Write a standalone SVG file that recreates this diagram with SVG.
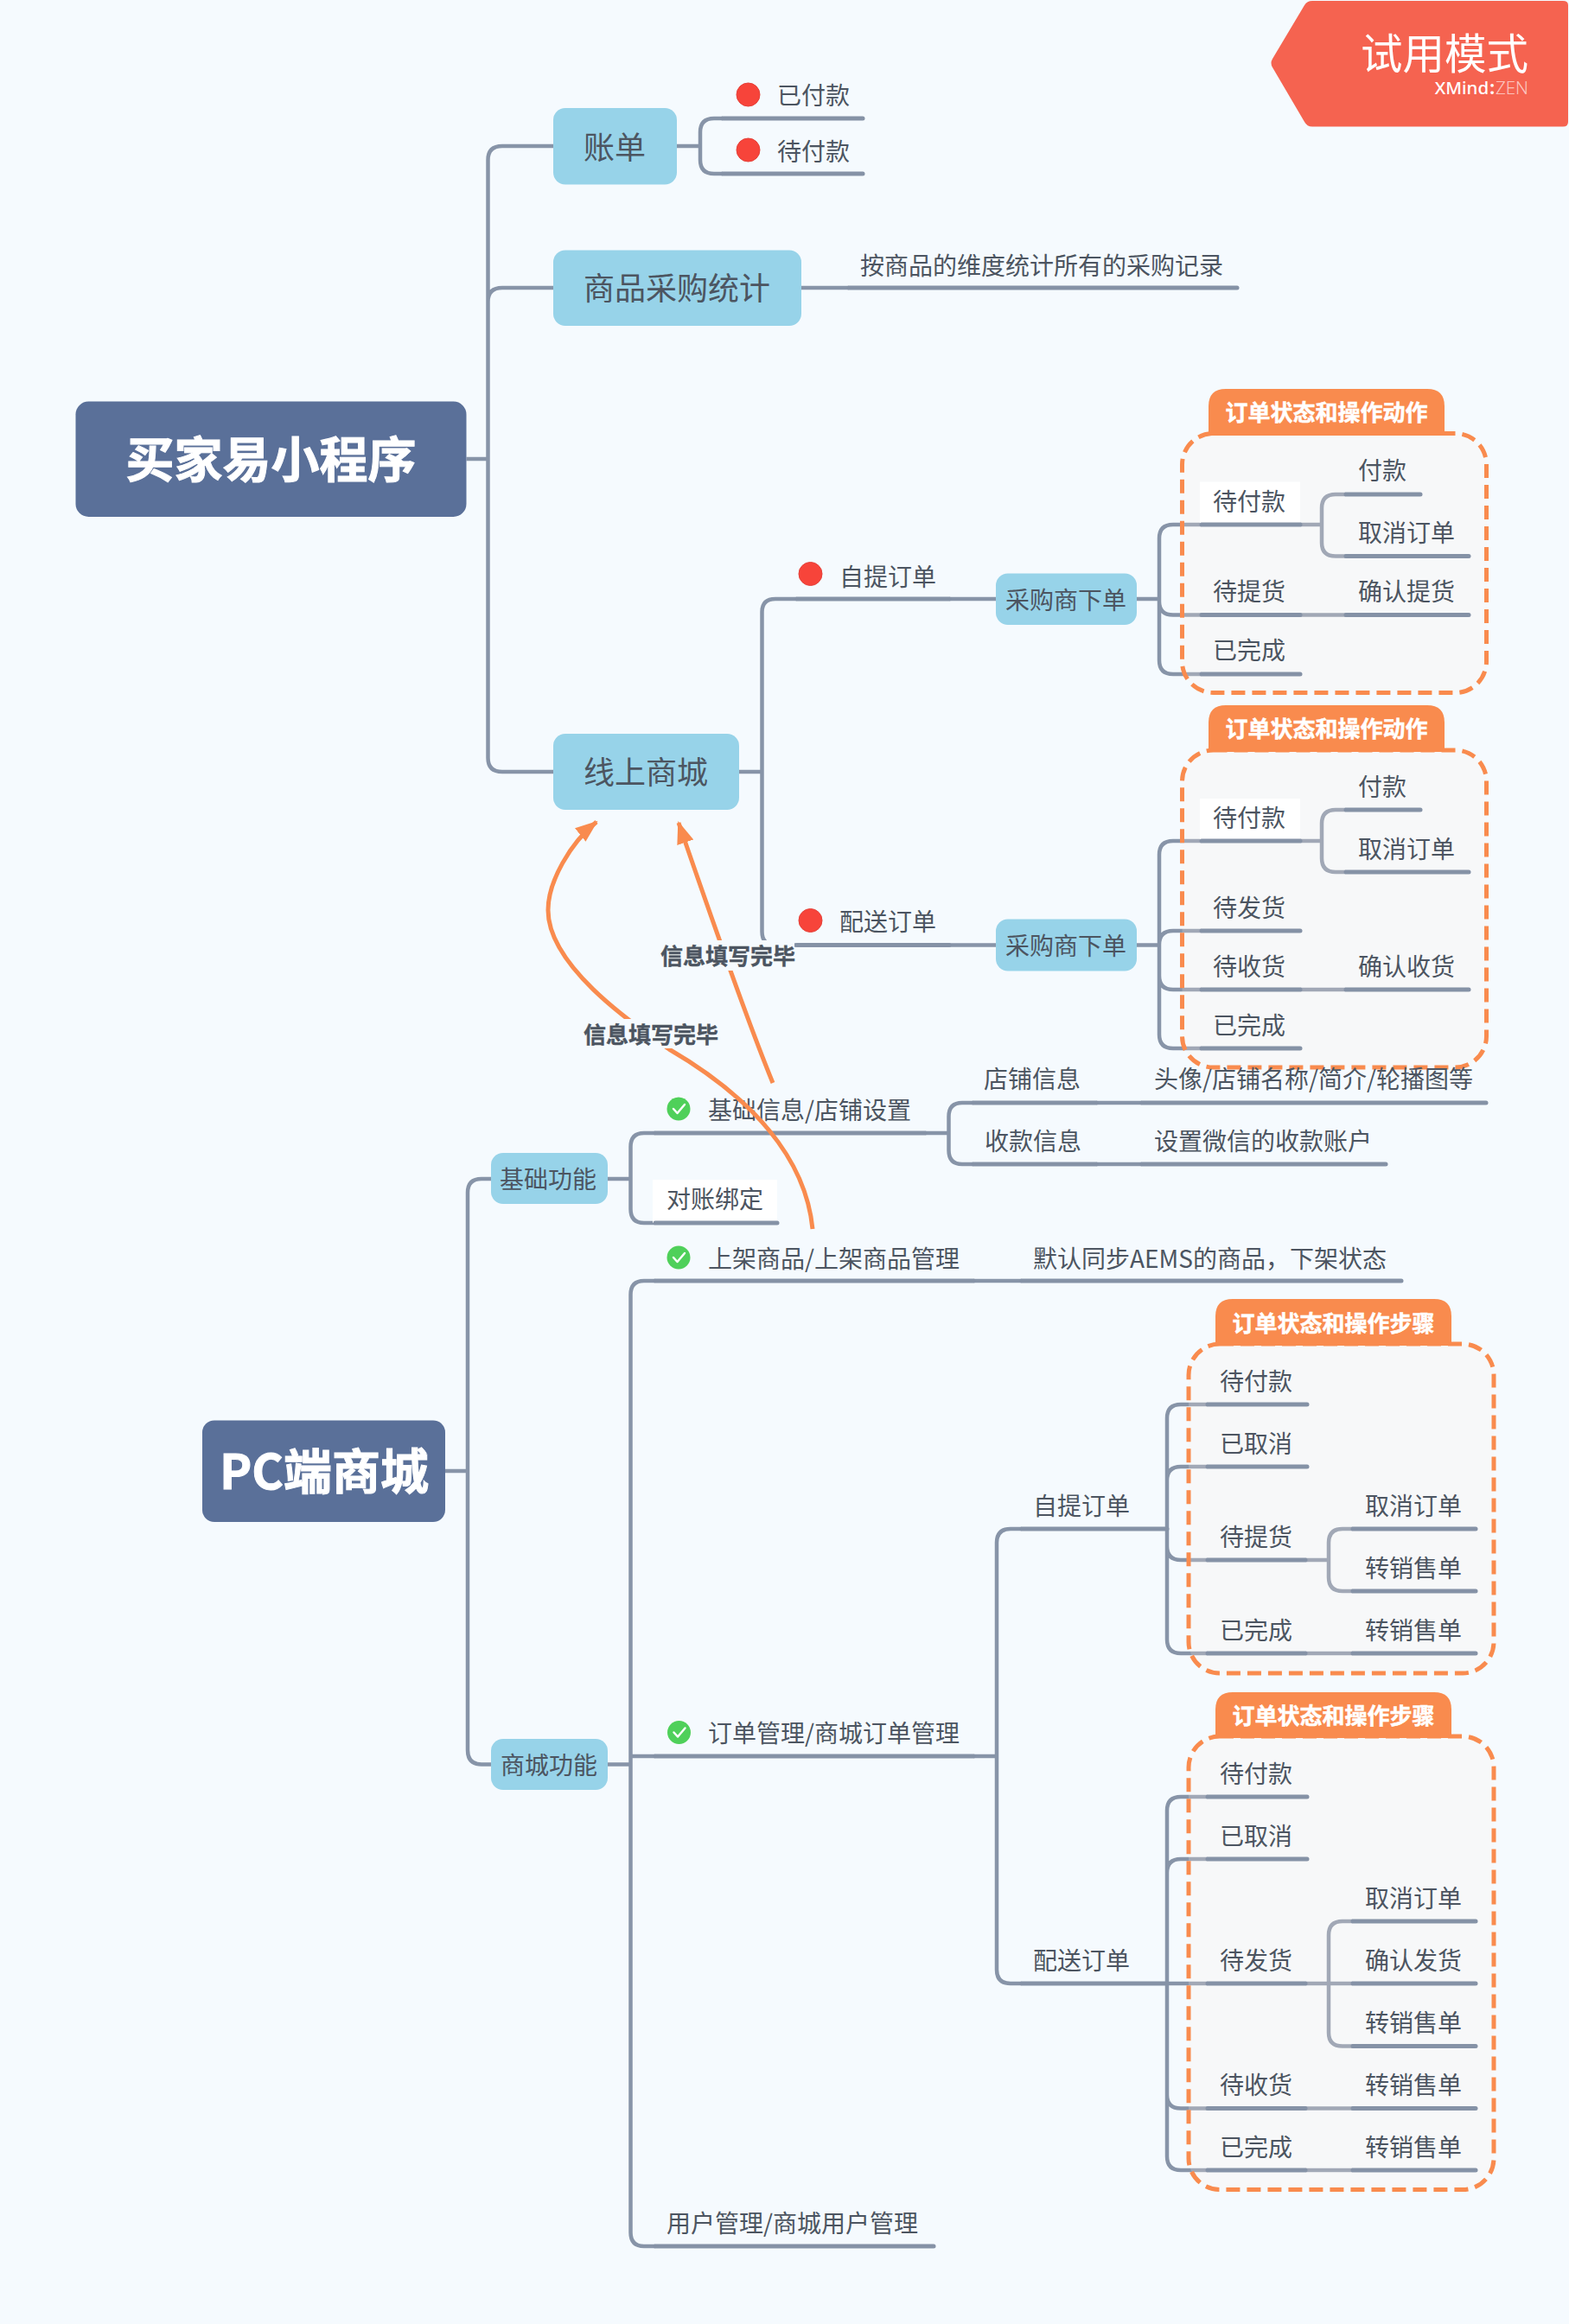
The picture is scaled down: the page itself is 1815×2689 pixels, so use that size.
<svg xmlns="http://www.w3.org/2000/svg" width="1815" height="2689" viewBox="0 0 1815 2689">
<style>
text{font-family:"Noto Sans CJK SC","Noto Sans","Liberation Sans",sans-serif;fill:#4c5561}
.c{fill:none;stroke:#8794a8;stroke-width:4.5}
.u{fill:none;stroke:#8592a6;stroke-width:5;stroke-linecap:round}
.a{fill:none;stroke:#f98b4e;stroke-width:5;marker-end:url(#arr)}
.t{font-size:28px}
.b{font-size:36px}
.n{fill:#97d3e9}
.r{fill:#5a7099}
.rt{font-size:56px;font-weight:700;fill:#fff;text-anchor:middle;stroke:#fff;stroke-width:1}
.p{fill:#fef1e8;fill-opacity:.22;stroke:none}
.d{fill:none;stroke:#f98b4e;stroke-width:5;stroke-dasharray:16 8}
.tab{fill:#f98b4e}
.tt{font-size:26px;font-weight:700;fill:#fff;text-anchor:middle;stroke:#fff;stroke-width:.5}
.dot{fill:#f7443a;stroke:#e5413a;stroke-width:1}
.ok{fill:#4fd05a}
.ck{fill:none;stroke:#fff;stroke-width:2.5;stroke-linecap:round;stroke-linejoin:round}
.lb{font-size:26px;font-weight:700;stroke:#4c5561;stroke-width:.4}
.bg{fill:#f5fafe}
.w{fill:#fff}
</style>
<defs><marker id="arr" markerUnits="userSpaceOnUse" viewBox="0 0 26 22" refX="24" refY="11" markerWidth="26" markerHeight="22" orient="auto"><path d="M0 1L26 11L0 21Z" fill="#f98b4e"/></marker></defs>
<rect class="bg" width="1815" height="2689"/>
<g id="connectors">
<path class="c" d="M539.5 531H564.5M640 169H581Q564.5 169 564.5 185V877Q564.5 893 581 893H640M640 333H581Q564.5 333 564.5 349"/>
<path class="c" d="M783 169H810M836 137H826Q810 137 810 153V185Q810 201 826 201H836"/>
<path class="c" d="M927 333H982"/>
<path class="c" d="M855 893H881.5M922 693H897Q881.5 693 881.5 708V1078Q881.5 1093.5 897 1093.5H922M1098 693H1152M1098 1093.5H1152"/>
<path class="c" d="M1315 693H1341M1390 607H1357Q1341 607 1341 623V764Q1341 780 1357 780H1390M1390 711.500H1357Q1341 711.500 1341 696M1504 607H1529M1557 572H1545Q1529 572 1529 588V628Q1529 643.500 1545 643.500H1557M1504 711.500H1557"/>
<path class="c" d="M1315 1093.500H1341M1390 973H1357Q1341 973 1341 989V1197Q1341 1213 1357 1213H1390M1390 1077H1357Q1341 1077 1341 1093M1390 1145H1357Q1341 1145 1341 1129M1504 973H1529M1557 937H1545Q1529 937 1529 953V993Q1529 1009 1545 1009H1557M1504 1145H1557"/>
<path class="c" d="M515 1702H541M568 1364H557Q541 1364 541 1380V2025Q541 2041.500 557 2041.500H568"/>
<path class="c" d="M703 1364H729.500M758 1311H745Q729.500 1311 729.500 1327V1399Q729.500 1415 745 1415H758M1070 1311H1097.500M1126 1276H1113Q1097.500 1276 1097.500 1292V1331Q1097.500 1347 1113 1347H1126M1268 1276H1321M1268 1347H1321"/>
<path class="c" d="M703 2041.500H729.500M758 1482H745Q729.500 1482 729.500 1498V2583Q729.500 2599 745 2599H758M729.500 2032H758M1126 1482H1182M1126 2032H1153"/>
<path class="c" d="M1182 1769H1169Q1153 1769 1153 1785V2279Q1153 2295 1169 2295H1182"/>
<path class="c" d="M1350 1769V1641Q1350 1625 1366 1625H1397M1397 1697H1366Q1350 1697 1350 1713M1350 1769V1789Q1350 1805 1366 1805H1397M1350 1789V1897Q1350 1913 1366 1913H1397M1510 1805H1537M1565 1769H1553Q1537 1769 1537 1785V1825Q1537 1841 1553 1841H1565M1510 1913H1565"/>
<path class="c" d="M1350 2295V2095Q1350 2079 1366 2079H1397M1397 2151H1366Q1350 2151 1350 2167M1350 2295H1397M1350 2295V2424Q1350 2439.500 1366 2439.500H1397M1350 2424V2495Q1350 2511 1366 2511H1397M1510 2295H1565M1565 2223H1553Q1537 2223 1537 2239V2352Q1537 2367.500 1553 2367.500H1565M1510 2439.500H1565M1510 2511H1565"/>
</g>
<g id="boundary-1"><rect class="p" x="1367.500" y="501.500" width="352" height="300" rx="36"/><rect class="d" x="1367.500" y="501.500" width="352" height="300" rx="36"/><path class="tab" d="M1398 504V470Q1398 450 1418 450H1651Q1671 450 1671 470V504Z"/><text class="tt" x="1534.500" y="487">订单状态和操作动作</text></g>
<g id="boundary-2"><rect class="p" x="1367.500" y="868" width="352" height="367" rx="36"/><rect class="d" x="1367.500" y="868" width="352" height="367" rx="36"/><path class="tab" d="M1398 870V836Q1398 816 1418 816H1651Q1671 816 1671 836V870Z"/><text class="tt" x="1534.500" y="853">订单状态和操作动作</text></g>
<g id="boundary-3"><rect class="p" x="1375" y="1555" width="353" height="381" rx="36"/><rect class="d" x="1375" y="1555" width="353" height="381" rx="36"/><path class="tab" d="M1406 1557V1523Q1406 1503 1426 1503H1659Q1679 1503 1679 1523V1557Z"/><text class="tt" x="1542.500" y="1541">订单状态和操作步骤</text></g>
<g id="boundary-4"><rect class="p" x="1375" y="2009" width="353" height="524.500" rx="36"/><rect class="d" x="1375" y="2009" width="353" height="524.500" rx="36"/><path class="tab" d="M1406 2011V1978Q1406 1958 1426 1958H1659Q1679 1958 1679 1978V2011Z"/><text class="tt" x="1542.500" y="1995">订单状态和操作步骤</text></g>

<g id="root-1"><rect class="r" x="87.500" y="464.500" width="452" height="133.500" rx="15"/><text class="rt" x="313.500" y="552">买家易小程序</text></g>
<g id="root-2"><rect class="r" x="234" y="1643.500" width="281" height="117.500" rx="14"/><text class="rt" x="375" y="1723">PC端商城</text></g>

<g id="n-zd"><rect class="n" x="640" y="125" width="143" height="88.500" rx="14"/><text class="b" x="675" y="184">账单</text></g>
<g id="n-yfk"><circle class="dot" cx="865.500" cy="109.500" r="13.500"/><text class="t" x="899" y="121">已付款</text><path class="u" d="M836 137H998"/></g>
<g id="n-dfk"><circle class="dot" cx="865.500" cy="173.500" r="13.500"/><text class="t" x="899" y="186">待付款</text><path class="u" d="M836 201H998"/></g>
<g id="n-spcg"><rect class="n" x="640" y="289.500" width="287" height="87.500" rx="14"/><text class="b" x="675" y="347">商品采购统计</text></g>
<g id="n-aspw"><text class="t" x="995" y="318">按商品的维度统计所有的采购记录</text><path class="u" d="M982 333H1431"/></g>
<g id="n-xssc"><rect class="n" x="640" y="849" width="215" height="88" rx="14"/><text class="b" x="675" y="907">线上商城</text></g>
<g id="n-ztdd"><circle class="dot" cx="937.500" cy="664" r="13.500"/><text class="t" x="971" y="678">自提订单</text><path class="u" d="M922 693H1098"/></g>
<g id="n-psdd"><circle class="dot" cx="937.500" cy="1065" r="13.500"/><text class="t" x="971" y="1077">配送订单</text><path class="u" d="M922 1093.500H1098"/></g>
<g id="n-cg1"><rect class="n" x="1152" y="663.500" width="163" height="59.500" rx="14"/><text class="t" x="1163" y="705">采购商下单</text></g>
<g id="n-cg2"><rect class="n" x="1152" y="1063.500" width="163" height="60" rx="14"/><text class="t" x="1163" y="1105">采购商下单</text></g>

<g id="a1"><rect class="w" x="1388" y="557.500" width="116" height="49.500"/><text class="t" x="1403" y="591">待付款</text><path class="u" d="M1390 607H1504"/></g>
<g id="a2"><text class="t" x="1571" y="555">付款</text><path class="u" d="M1557 572H1643"/></g>
<g id="a3"><text class="t" x="1571" y="627">取消订单</text><path class="u" d="M1557 643.500H1699"/></g>
<g id="a4"><text class="t" x="1403" y="695">待提货</text><path class="u" d="M1390 711.500H1504"/></g>
<g id="a5"><text class="t" x="1571" y="695">确认提货</text><path class="u" d="M1557 711.500H1699"/></g>
<g id="a6"><text class="t" x="1403" y="763">已完成</text><path class="u" d="M1390 780H1504"/></g>

<g id="b1"><rect class="w" x="1388" y="924" width="116" height="49"/><text class="t" x="1403" y="957">待付款</text><path class="u" d="M1390 973H1504"/></g>
<g id="b2"><text class="t" x="1571" y="921">付款</text><path class="u" d="M1557 937H1643"/></g>
<g id="b3"><text class="t" x="1571" y="993">取消订单</text><path class="u" d="M1557 1009H1699"/></g>
<g id="b4"><text class="t" x="1403" y="1061">待发货</text><path class="u" d="M1390 1077H1504"/></g>
<g id="b5"><text class="t" x="1403" y="1129">待收货</text><path class="u" d="M1390 1145H1504"/></g>
<g id="b6"><text class="t" x="1571" y="1129">确认收货</text><path class="u" d="M1557 1145H1699"/></g>
<g id="b7"><text class="t" x="1403" y="1197">已完成</text><path class="u" d="M1390 1213H1504"/></g>

<g id="n-jcgn"><rect class="n" x="568" y="1334" width="135" height="59" rx="14"/><text class="t" x="578" y="1375">基础功能</text></g>
<g id="n-jcxx"><circle class="ok" cx="785" cy="1283" r="13.500"/><polyline class="ck" points="779,1283 783.500,1288 792,1278"/><text class="t" x="819" y="1295">基础信息/店铺设置</text><path class="u" d="M758 1311H1070"/></g>
<g id="n-dzbd"><rect class="w" x="755" y="1365" width="144" height="50"/><text class="t" x="771" y="1398">对账绑定</text><path class="u" d="M758 1415H899"/></g>
<g id="n-dpxx"><text class="t" x="1138" y="1259">店铺信息</text><path class="u" d="M1126 1276H1268"/></g>
<g id="n-txdp"><text class="t" x="1335" y="1259">头像/店铺名称/简介/轮播图等</text><path class="u" d="M1321 1276H1719"/></g>
<g id="n-skxx"><text class="t" x="1139" y="1331">收款信息</text><path class="u" d="M1126 1347H1268"/></g>
<g id="n-szwx"><text class="t" x="1335" y="1331">设置微信的收款账户</text><path class="u" d="M1321 1347H1603"/></g>

<g id="n-sjsp"><circle class="ok" cx="785" cy="1455" r="13.500"/><polyline class="ck" points="779,1455 783.500,1460 792,1450"/><text class="t" x="819" y="1467">上架商品/上架商品管理</text><path class="u" d="M758 1482H1126"/></g>
<g id="n-mrtb"><text class="t" x="1195" y="1467">默认同步AEMS的商品，下架状态</text><path class="u" d="M1182 1482H1621"/></g>
<g id="n-scgn"><rect class="n" x="568" y="2012" width="135" height="59" rx="14"/><text class="t" x="579" y="2053">商城功能</text></g>
<g id="n-ddgl"><circle class="ok" cx="785.500" cy="2004.500" r="13.500"/><polyline class="ck" points="779.500,2004.500 784,2009.500 792.500,1999.500"/><text class="t" x="819" y="2016">订单管理/商城订单管理</text><path class="u" d="M758 2032H1126"/></g>
<g id="n-yhgl"><text class="t" x="771" y="2583">用户管理/商城用户管理</text><path class="u" d="M758 2599H1080"/></g>

<g id="n-zt"><text class="t" x="1195" y="1753">自提订单</text><path class="u" d="M1182 1769H1350"/></g>
<g id="c1"><text class="t" x="1411" y="1609">待付款</text><path class="u" d="M1397 1625H1512"/></g>
<g id="c2"><text class="t" x="1411" y="1681">已取消</text><path class="u" d="M1397 1697H1512"/></g>
<g id="c3"><text class="t" x="1411" y="1789">待提货</text><path class="u" d="M1397 1805H1510"/></g>
<g id="c4"><text class="t" x="1411" y="1897">已完成</text><path class="u" d="M1397 1913H1510"/></g>
<g id="c5"><text class="t" x="1579" y="1753">取消订单</text><path class="u" d="M1565 1769H1707"/></g>
<g id="c6"><text class="t" x="1579" y="1825">转销售单</text><path class="u" d="M1565 1841H1707"/></g>
<g id="c7"><text class="t" x="1579" y="1897">转销售单</text><path class="u" d="M1565 1913H1707"/></g>

<g id="n-ps"><text class="t" x="1195" y="2279">配送订单</text><path class="u" d="M1182 2295H1350"/></g>
<g id="d1"><text class="t" x="1411" y="2063">待付款</text><path class="u" d="M1397 2079H1512"/></g>
<g id="d2"><text class="t" x="1411" y="2135">已取消</text><path class="u" d="M1397 2151H1512"/></g>
<g id="d3"><text class="t" x="1411" y="2279">待发货</text><path class="u" d="M1397 2295H1510"/></g>
<g id="d4"><text class="t" x="1411" y="2423">待收货</text><path class="u" d="M1397 2439.500H1510"/></g>
<g id="d5"><text class="t" x="1411" y="2495">已完成</text><path class="u" d="M1397 2511H1510"/></g>
<g id="d6"><text class="t" x="1579" y="2207">取消订单</text><path class="u" d="M1565 2223H1707"/></g>
<g id="d7"><text class="t" x="1579" y="2279">确认发货</text><path class="u" d="M1565 2295H1707"/></g>
<g id="d8"><text class="t" x="1579" y="2351">转销售单</text><path class="u" d="M1565 2367.500H1707"/></g>
<g id="d9"><text class="t" x="1579" y="2423">转销售单</text><path class="u" d="M1565 2439.500H1707"/></g>
<g id="d10"><text class="t" x="1579" y="2495">转销售单</text><path class="u" d="M1565 2511H1707"/></g>

<g id="relationships">
<path class="a" d="M894 1253Q860 1170 785 952"/>
<path class="a" d="M940 1422C932 1340 870 1270 774 1214C740 1190 634 1120 634 1053C634 1020 660 975 690 951"/>
<rect class="bg" x="764" y="1088" width="155" height="35"/><text class="lb" x="764" y="1116">信息填写完毕</text>
<rect class="bg" x="675" y="1179" width="155" height="34"/><text class="lb" x="675" y="1207">信息填写完毕</text>
</g>
<g id="trial-badge">
<path d="M1518 1Q1512 1 1509 6L1472 68Q1469 73 1472 78L1509 141Q1512 146.500 1518 146.500H1808Q1814 146.500 1814 141V6Q1814 1 1808 1Z" fill="#f56350"/>
<text x="1768" y="80" font-size="48.500" text-anchor="end" style="fill:#fff">试用模式</text>
<text x="1768" y="109" font-size="20.500" text-anchor="end" style="fill:#fff;font-family:'Noto Sans',sans-serif"><tspan font-weight="500">XMind</tspan><tspan font-weight="700" dx="1">:</tspan><tspan fill-opacity=".65" font-weight="300" dx="1">ZEN</tspan></text>
</g>
</svg>
